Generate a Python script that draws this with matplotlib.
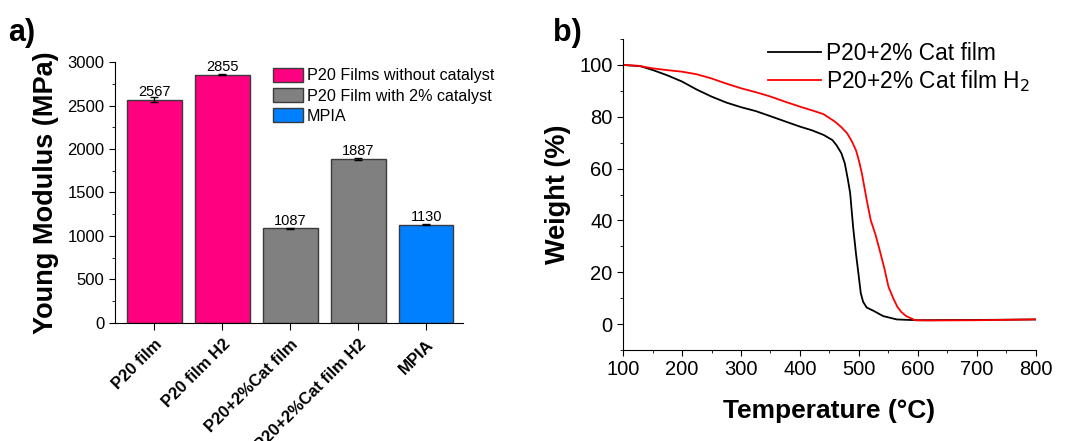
import matplotlib
matplotlib.use("Agg")
import matplotlib.pyplot as plt
import numpy as np
from matplotlib.patches import Patch
from matplotlib.ticker import MultipleLocator

plt.rcParams['font.family'] = ['Liberation Sans', 'DejaVu Sans']

# ---- data panel a ----
categories = ["P20 film", "P20 film H2", "P20+2%Cat film", "P20+2%Cat film H2", "MPIA"]
modulus = [2567, 2855, 1087, 1887, 1130]
modulus_err = [30, 10, 8, 10, 8]
bar_colors = ["#FF0080", "#FF0080", "#808080", "#808080", "#0080FF"]
legend_labels = ["P20 Films without catalyst", "P20 Film with 2% catalyst", "MPIA"]
legend_colors = ["#FF0080", "#808080", "#0080FF"]

# ---- data panel b ----
temp_black = [100, 130, 151, 175, 200, 225, 250, 275, 300, 325, 349, 375, 400, 420, 440, 455, 462, 470, 476,
              481, 485, 490, 495, 499, 503, 507, 513, 524, 541, 564, 598, 700, 800]
weight_black = [100, 99.5, 98, 96, 93.6, 90.5, 87.8, 85.5, 83.7, 82.2, 80.3, 78.2, 76.2, 74.8, 73, 71, 69, 66, 62,
                56, 50.6, 37.6, 27, 19.6, 12, 8.6, 6.4, 5.2, 3.1, 1.8, 1.5, 1.6, 1.8]
temp_red = [100, 125, 150, 175, 200, 225, 250, 275, 300, 325, 350, 375, 400, 420, 440, 460, 470, 480, 488,
            495, 500, 505, 513, 520, 528, 535, 543, 550, 558, 565, 572, 580, 595, 620, 700, 800]
weight_red = [100, 99.7, 98.7, 98, 97.4, 96.4, 94.8, 92.8, 91, 89.5, 87.8, 85.8, 83.9, 82.5, 81, 78, 76, 73.6, 70.5,
              67, 63, 58, 48, 40, 34.5, 28.6, 21.5, 14.4, 10, 6.7, 4.6, 3.1, 1.5, 1.4, 1.5, 1.8]

fig = plt.figure(figsize=(10.69, 4.41), dpi=100)

# ================= panel a =================
ax1 = fig.add_axes([0.1076, 0.2676, 0.3255, 0.5918])
x = np.arange(1, len(categories) + 1)
ax1.bar(x, modulus, width=0.8, color=bar_colors, edgecolor="#3a3a3a", linewidth=1.0, zorder=2)
ax1.errorbar(x, modulus, yerr=modulus_err, fmt='none', ecolor='black', elinewidth=1, capsize=3, capthick=1, zorder=3)
for xi, v in zip(x, modulus):
    ax1.text(xi, v + 8, str(v), ha='center', va='bottom', fontsize=10.5)
ax1.set_xlim(0.42, 5.54)
ax1.set_ylim(0, 3000)
ax1.set_xticks(x)
ax1.set_xticklabels(categories, rotation=45, ha='right', rotation_mode='anchor', fontweight='bold', fontsize=12)
ax1.yaxis.set_major_locator(MultipleLocator(500))
ax1.yaxis.set_minor_locator(MultipleLocator(250))
ax1.tick_params(axis='y', labelsize=12, direction='out', length=4)
ax1.tick_params(axis='y', which='minor', length=2)
ax1.tick_params(axis='x', direction='out', length=5, pad=5)
for s in ['top', 'right']:
    ax1.spines[s].set_visible(False)
ax1.set_ylabel("Young Modulus (MPa)", fontsize=19.5, fontweight='bold', labelpad=6)
handles = [Patch(facecolor=c, edgecolor="#3a3a3a", linewidth=1.0) for c in legend_colors]
ax1.legend(handles, legend_labels, loc='upper left', bbox_to_anchor=(0.445, 0.99), frameon=False,
           fontsize=11.6, handlelength=1.85, handleheight=0.95, handletextpad=0.25, labelspacing=0.3,
           borderpad=0.2, borderaxespad=0.0)
fig.text(0.008, 0.925, "a)", fontsize=22, fontweight='bold', ha='left', va='center')

# ================= panel b =================
ax2 = fig.add_axes([0.5828, 0.2063, 0.3863, 0.7052])
ax2.plot(temp_black, weight_black, color='black', lw=1.3, label="P20+2% Cat film")
ax2.plot(temp_red, weight_red, color='#FF0000', lw=1.3, label="P20+2% Cat film H$_2$")
ax2.set_xlim(100, 800)
ax2.set_ylim(-10, 110)
ax2.xaxis.set_major_locator(MultipleLocator(100))
ax2.xaxis.set_minor_locator(MultipleLocator(50))
ax2.yaxis.set_major_locator(MultipleLocator(20))
ax2.yaxis.set_minor_locator(MultipleLocator(10))
ax2.tick_params(axis='both', labelsize=14.5, direction='out', length=4)
ax2.tick_params(axis='both', which='minor', length=2)
for s in ['top', 'right']:
    ax2.spines[s].set_visible(False)
ax2.set_xlabel("Temperature (°C)", fontsize=19, fontweight='bold', labelpad=14)
ax2.set_ylabel("Weight (%)", fontsize=19.5, fontweight='bold', labelpad=6)
ax2.legend(loc='upper left', bbox_to_anchor=(0.33, 1.02), frameon=False, fontsize=16.4,
           handlelength=2.3, handletextpad=0.25, labelspacing=0.12, borderaxespad=0.0)
fig.text(0.517, 0.925, "b)", fontsize=22, fontweight='bold', ha='left', va='center')

fig.savefig("out.png", dpi=100)
